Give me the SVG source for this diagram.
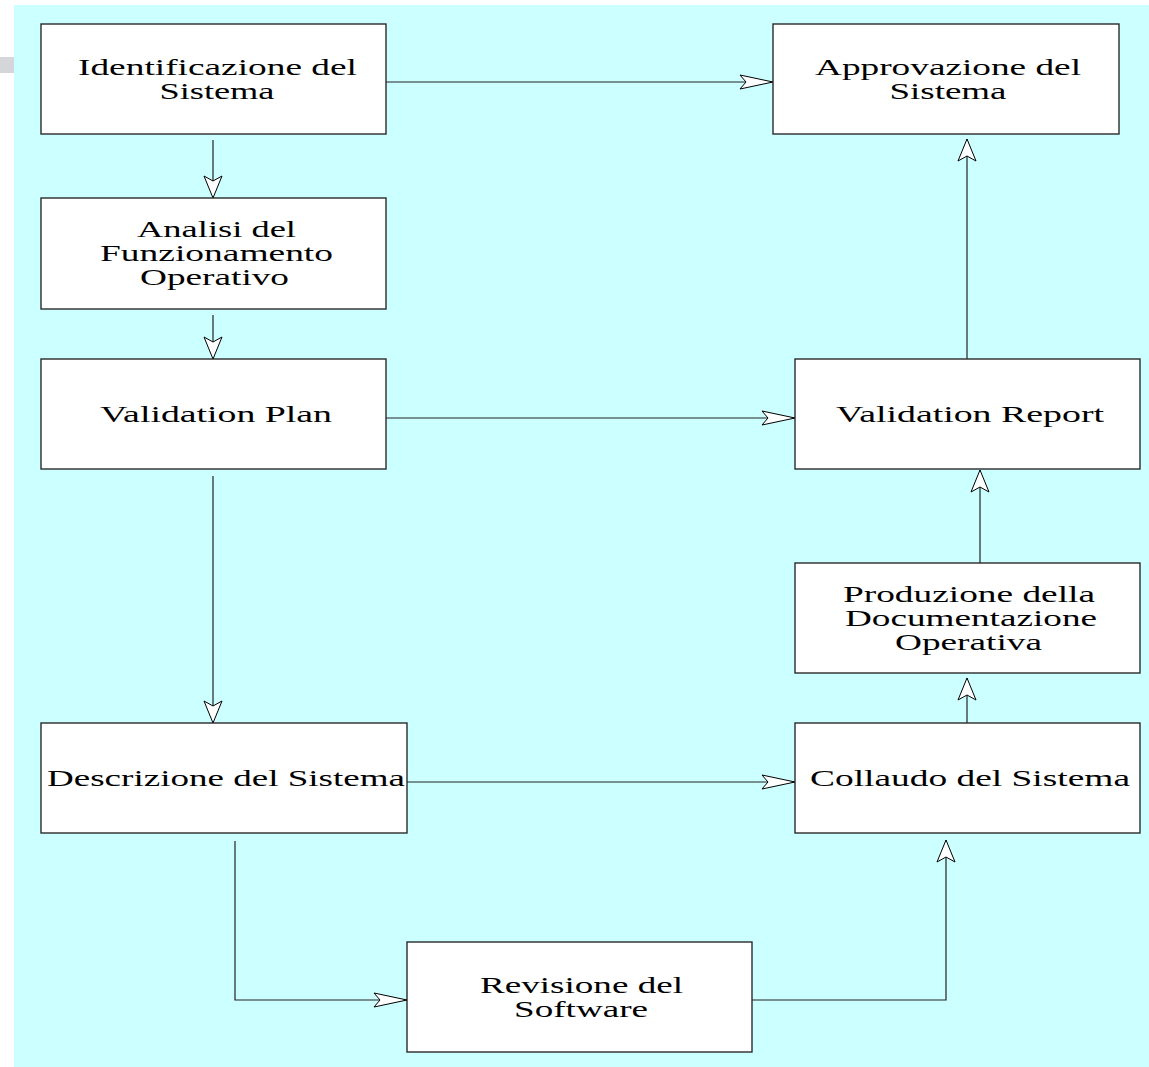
<svg xmlns="http://www.w3.org/2000/svg" width="1149" height="1067" viewBox="0 0 1149 1067">
<style>
.box{fill:#fff;stroke:#2a2a2a;stroke-width:1.4}
.lbl{font-family:"Liberation Serif","Times New Roman",serif;font-size:23px;fill:#000;text-anchor:middle}
.con{fill:none;stroke:#222;stroke-width:1.2}
</style>
<defs>
<marker id="mh" markerUnits="userSpaceOnUse" orient="auto" markerWidth="40" markerHeight="20" refX="0" refY="0" overflow="visible">
<path d="M0,0 L-33,-7 L-27,0 L-33,7 Z" fill="#fff" stroke="#000" stroke-width="1"/>
</marker>
<marker id="mv" markerUnits="userSpaceOnUse" orient="auto" markerWidth="30" markerHeight="24" refX="0" refY="0" overflow="visible">
<path d="M0,0 L-22,-9 L-17,0 L-22,9 Z" fill="#fff" stroke="#000" stroke-width="1"/>
</marker>
</defs>
<rect x="0" y="0" width="1149" height="1067" fill="#fff"/>
<rect x="0" y="57" width="14" height="16" fill="#d4d6da"/>
<rect x="14" y="5" width="1135" height="1062" fill="#ccffff"/>
<g id="connectors">
<path class="con" d="M386,82 H773" marker-end="url(#mh)"/>
<path class="con" d="M213,140 V198" marker-end="url(#mv)"/>
<path class="con" d="M213,315 V359" marker-end="url(#mv)"/>
<path class="con" d="M213,476 V723" marker-end="url(#mv)"/>
<path class="con" d="M386,418 H795" marker-end="url(#mh)"/>
<path class="con" d="M967,359 V139" marker-end="url(#mv)"/>
<path class="con" d="M980,563 V470" marker-end="url(#mv)"/>
<path class="con" d="M967,723 V678" marker-end="url(#mv)"/>
<path class="con" d="M407,782 H795" marker-end="url(#mh)"/>
<path class="con" d="M235,841 V1000 H407" marker-end="url(#mh)"/>
<path class="con" d="M752,1000 H946 V840" marker-end="url(#mv)"/>
</g>
<g id="n1"><rect class="box" x="41" y="24" width="345" height="110"/>
<text class="lbl" x="217.5" y="75" textLength="279" lengthAdjust="spacingAndGlyphs">Identificazione del</text>
<text class="lbl" x="217" y="99" textLength="115" lengthAdjust="spacingAndGlyphs">Sistema</text></g>
<g id="n2"><rect class="box" x="773" y="24" width="346" height="110"/>
<text class="lbl" x="948" y="75" textLength="266" lengthAdjust="spacingAndGlyphs">Approvazione del</text>
<text class="lbl" x="948" y="99" textLength="117" lengthAdjust="spacingAndGlyphs">Sistema</text></g>
<g id="n3"><rect class="box" x="41" y="198" width="345" height="111"/>
<text class="lbl" x="216.5" y="237" textLength="159" lengthAdjust="spacingAndGlyphs">Analisi del</text>
<text class="lbl" x="216.5" y="261" textLength="233" lengthAdjust="spacingAndGlyphs">Funzionamento</text>
<text class="lbl" x="214.5" y="285" textLength="149" lengthAdjust="spacingAndGlyphs">Operativo</text></g>
<g id="n4"><rect class="box" x="41" y="359" width="345" height="110"/>
<text class="lbl" x="216" y="422" textLength="232" lengthAdjust="spacingAndGlyphs">Validation Plan</text></g>
<g id="n5"><rect class="box" x="795" y="359" width="345" height="110"/>
<text class="lbl" x="970" y="422" textLength="268" lengthAdjust="spacingAndGlyphs">Validation Report</text></g>
<g id="n6"><rect class="box" x="795" y="563" width="345" height="110"/>
<text class="lbl" x="969" y="602" textLength="252" lengthAdjust="spacingAndGlyphs">Produzione della</text>
<text class="lbl" x="971" y="626" textLength="252" lengthAdjust="spacingAndGlyphs">Documentazione</text>
<text class="lbl" x="968.5" y="650" textLength="147" lengthAdjust="spacingAndGlyphs">Operativa</text></g>
<g id="n7"><rect class="box" x="41" y="723" width="366" height="110"/>
<text class="lbl" x="226" y="786" textLength="358" lengthAdjust="spacingAndGlyphs">Descrizione del Sistema</text></g>
<g id="n8"><rect class="box" x="795" y="723" width="345" height="110"/>
<text class="lbl" x="970" y="786" textLength="320" lengthAdjust="spacingAndGlyphs">Collaudo del Sistema</text></g>
<g id="n9"><rect class="box" x="407" y="942" width="345" height="110"/>
<text class="lbl" x="581.5" y="993" textLength="203" lengthAdjust="spacingAndGlyphs">Revisione del</text>
<text class="lbl" x="581" y="1017" textLength="134" lengthAdjust="spacingAndGlyphs">Software</text></g>
</svg>
